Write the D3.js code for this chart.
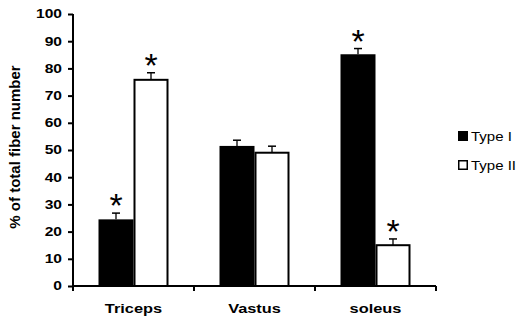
<!DOCTYPE html>
<html>
<head>
<meta charset="utf-8">
<script src="https://d3js.org/d3.v7.min.js"></script>
<style>
  body { margin: 0; background: white; }
  svg { font-family: Arial, "Liberation Sans", sans-serif; }
</style>
</head>
<body>
<svg id="chart" width="520" height="320"></svg>
<script>
// data
var muscles = ["Triceps", "Vastus", "soleus"];
var typeI = [24.5, 51.5, 85.2];
var typeII = [75.8, 49, 15];
var errI = [2.3, 2.1, 2.1];
var errII = [2.6, 2.4, 2.3];
var starI = [true, false, true];
var starII = [true, false, true];
var yTicks = [0, 10, 20, 30, 40, 50, 60, 70, 80, 90, 100];

var svg = d3.select("#chart");

var x = d3.scaleBand().domain(muscles).range([73, 436]);
var y = d3.scaleLinear().domain([0, 100]).range([286, 14]);
var barW = 35;

// the original picture was stretched sideways, so text is too
var stretch = 1.3;

// build one row per bar
var bars = [];
muscles.forEach(function(m, i) {
    bars.push({ muscle: m, type: "I", value: typeI[i], err: errI[i], star: starI[i] });
    bars.push({ muscle: m, type: "II", value: typeII[i], err: errII[i], star: starII[i] });
});

function barX(d) {
    var c = x(d.muscle) + x.bandwidth() / 2;
    return d.type == "I" ? c - barW : c;
}

// error bars (drawn under the bars)
var eb = svg.append("g");
eb.selectAll("line.v").data(bars).enter().append("line")
    .attr("x1", function(d) { return barX(d) + barW / 2; })
    .attr("x2", function(d) { return barX(d) + barW / 2; })
    .attr("y1", function(d) { return y(d.value); })
    .attr("y2", function(d) { return y(d.value + d.err); })
    .attr("stroke", "black").attr("stroke-width", 1.3);
eb.selectAll("line.h").data(bars).enter().append("line")
    .attr("x1", function(d) { return barX(d) + barW / 2 - 4; })
    .attr("x2", function(d) { return barX(d) + barW / 2 + 4; })
    .attr("y1", function(d) { return y(d.value + d.err); })
    .attr("y2", function(d) { return y(d.value + d.err); })
    .attr("stroke", "black").attr("stroke-width", 1.5);

// bars
svg.append("g").selectAll("rect").data(bars).enter().append("rect")
    .attr("x", function(d) { return barX(d) + (d.type == "II" ? 1 : 0); })
    .attr("width", function(d) { return d.type == "II" ? barW - 2 : barW; })
    .attr("y", function(d) { return y(d.value); })
    .attr("height", function(d) { return y(0) - y(d.value); })
    .attr("fill", function(d) { return d.type == "I" ? "black" : "white"; })
    .attr("stroke", "black")
    .attr("stroke-width", function(d) { return d.type == "I" ? 0 : 2; });

// significance asterisks
svg.append("g").selectAll("text").data(bars.filter(function(d) { return d.star; }))
    .enter().append("text")
    .attr("x", function(d) { return barX(d) + barW / 2; })
    .attr("y", function(d) { return y(d.value + d.err) + 4; })
    .attr("text-anchor", "middle")
    .style("font-size", "34px")
    .text("*");

// y axis
var yAxis = svg.append("g")
    .attr("transform", "translate(73,0)")
    .call(d3.axisLeft(y).tickValues(yTicks).tickSize(5).tickPadding(5));
yAxis.select(".domain").attr("stroke-width", 2).attr("d", "M0,14V286");
yAxis.selectAll(".tick line").attr("stroke-width", 2);
yAxis.selectAll("text")
    .attr("x", 0)
    .attr("transform", "translate(-11,0) scale(" + stretch + ",1)")
    .style("font-size", "12px").style("font-weight", "bold")
    .attr("fill", "black").style("font-family", "Arial, 'Liberation Sans', sans-serif");

// x axis
var xAxis = svg.append("g")
    .attr("transform", "translate(0,286)")
    .call(d3.axisBottom(x).tickSize(0).tickPadding(18));
xAxis.select(".domain").attr("stroke-width", 2).attr("d", "M73,0H436");
xAxis.selectAll("text")
    .attr("transform", "scale(1.26,1)")
    .style("font-size", "13px").style("font-weight", "bold")
    .attr("fill", "black").style("font-family", "Arial, 'Liberation Sans', sans-serif");
// tick marks between categories
var edges = muscles.map(function(m) { return x(m); }).concat([x.range()[1]]);
xAxis.selectAll("line.sep").data(edges).enter().append("line")
    .attr("x1", function(d) { return d; }).attr("x2", function(d) { return d; })
    .attr("y1", 0).attr("y2", 5)
    .attr("stroke", "black").attr("stroke-width", 2);

// y axis title
svg.append("text")
    .attr("transform", "translate(20,147) rotate(-90)")
    .attr("text-anchor", "middle")
    .style("font-size", "15px").style("font-weight", "bold")
    .text("% of total fiber number");

// legend
var legend = svg.append("g").selectAll("g").data(["Type I", "Type II"]).enter().append("g")
    .attr("transform", function(d, i) { return "translate(458," + (131 + i * 29) + ")"; });
legend.append("rect")
    .attr("x", function(d, i) { return i ? 0.75 : 0; })
    .attr("y", function(d, i) { return i ? 0.75 : 0; })
    .attr("width", function(d, i) { return i ? 8.5 : 10; })
    .attr("height", function(d, i) { return i ? 8.5 : 10; })
    .attr("fill", function(d, i) { return i ? "white" : "black"; })
    .attr("stroke", "black").attr("stroke-width", function(d, i) { return i ? 1.5 : 0; });
legend.append("text")
    .attr("transform", "translate(13,9.5) scale(1.25,1)")
    .style("font-size", "12px")
    .text(function(d) { return d; });
</script>
</body>
</html>
